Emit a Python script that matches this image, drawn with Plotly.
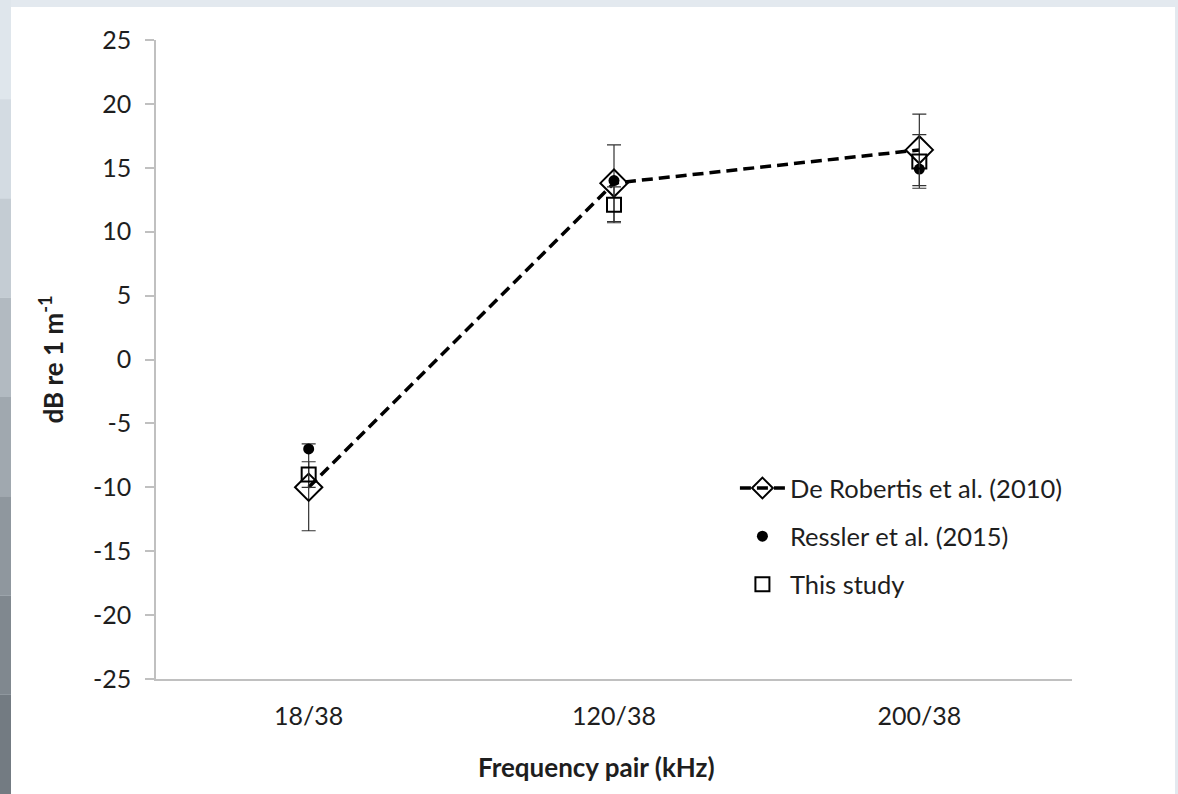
import plotly.graph_objects as go

categories = ["18/38", "120/38", "200/38"]

derobertis_vals = [-10.0, 13.8, 16.4]
derobertis_err = [3.4, 3.0, 2.8]

ressler_vals = [-7.0, 14.0, 14.9]

study_vals = [-9.0, 12.1, 15.5]
study_err = [1.0, 1.4, 2.1]

y_ticks = [25, 20, 15, 10, 5, 0, -5, -10, -15, -20, -25]
y_ticktext = ["25", "20", "15", "10", "5", "0", "-5", "-10", "-15", "-20", "-25"]

FONT = "Lato"
W, H = 1178, 794
L, R, T, B = 156, 106, 40, 115
TXT = "#1e1e1e"

fig = go.Figure()

fig.add_trace(go.Scatter(
    x=categories, y=derobertis_vals, name="De Robertis et al. (2010)",
    mode="lines+markers",
    line=dict(color="black", width=3.5, dash="11px,6px"),
    marker=dict(symbol="diamond-open", size=21, color="black", line=dict(width=2)),
    error_y=dict(type="data", array=derobertis_err, color="#333333", thickness=1.2, width=7),
    legendgroup="a",
))
fig.add_trace(go.Scatter(
    x=categories, y=ressler_vals, name="Ressler et al. (2015)",
    mode="markers",
    marker=dict(symbol="circle", size=11, color="black"),
    legendgroup="b",
))
fig.add_trace(go.Scatter(
    x=categories, y=study_vals, name="This study",
    mode="markers",
    marker=dict(symbol="square-open", size=14, color="black", line=dict(width=2)),
    error_y=dict(type="data", array=study_err, color="#333333", thickness=1.2, width=7),
    legendgroup="c",
))

# background decoration: grey frame around a white panel
PW, PH = W - L - R, H - T - B
shapes = []
bands = ["#dfe6ec", "#d3dbe2", "#c4ccd3", "#b2bac1", "#a0a8af", "#8f979e", "#80888f", "#737b82"]
n = len(bands)
for i, c in enumerate(bands):
    shapes.append(dict(type="rect", xref="paper", yref="paper", layer="below",
                       x0=-L / PW, x1=(11 - L) / PW,
                       y0=1 + T / PH - (i + 1) * (H / n) / PH,
                       y1=1 + T / PH - i * (H / n) / PH,
                       fillcolor=c, line=dict(width=0)))
shapes.append(dict(type="rect", xref="paper", yref="paper", layer="below",
                   x0=(11 - L) / PW, x1=(1175 - L) / PW,
                   y0=-B / PH - 0.01, y1=1 + (T - 7) / PH,
                   fillcolor="white", line=dict(width=0)))

fig.update_layout(
    width=W, height=H,
    margin=dict(l=L, r=R, t=T, b=B),
    paper_bgcolor="#e3e9ef",
    plot_bgcolor="white",
    font=dict(family=FONT, size=25, color=TXT),
    shapes=shapes,
    showlegend=True,
    legend=dict(x=0.632, y=0.335, xanchor="left", yanchor="top",
                bgcolor="rgba(0,0,0,0)", font=dict(size=25.5, family=FONT, color=TXT),
                tracegroupgap=12, traceorder="grouped", itemwidth=45),
    annotations=[dict(
        text="<b>Frequency pair (kHz)</b>", xref="paper", yref="paper",
        x=(596 - L) / PW, y=-(767 - (H - B)) / PH, xanchor="center", yanchor="middle",
        showarrow=False, font=dict(size=26, family=FONT, color=TXT),
    )],
    xaxis=dict(
        type="category", range=[-0.5, 2.5],
        showline=True, linecolor="#c0c0c0", linewidth=1.5,
        showgrid=False, zeroline=False, ticks="",
        tickfont=dict(size=25, family=FONT, color=TXT),
        ticklabelstandoff=14,
    ),
    yaxis=dict(
        range=[-25, 25], tickvals=y_ticks, ticktext=y_ticktext,
        showline=True, linecolor="#c0c0c0", linewidth=1.5,
        showgrid=False, zeroline=False,
        ticks="outside", ticklen=9, tickcolor="#c0c0c0", tickwidth=1.5,
        tickfont=dict(size=25, family=FONT, color=TXT),
        ticklabelstandoff=9,
        title=dict(text="<b>dB re 1 m<sup>-1</sup></b>", font=dict(size=26, family=FONT, color=TXT), standoff=22),
    ),
)

fig.write_html("out.html")
